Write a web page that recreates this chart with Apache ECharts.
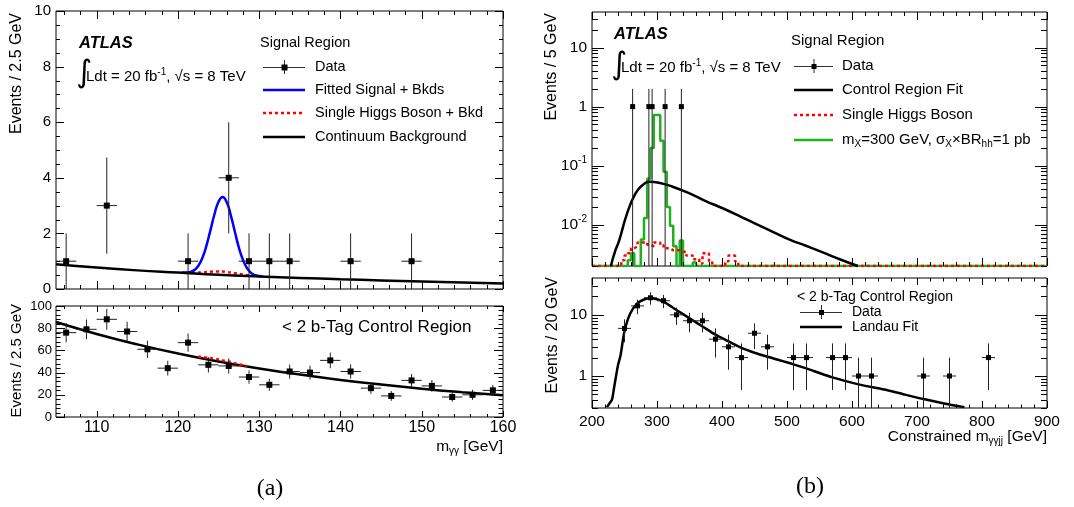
<!DOCTYPE html>
<html><head><meta charset="utf-8"><title>ATLAS</title>
<script src="https://cdn.jsdelivr.net/npm/echarts@6.0.0/dist/echarts.min.js"></script>
<style>html,body{margin:0;padding:0;background:#fff;}#chart{width:1074px;height:507px;}</style>
</head><body><div id="chart"></div>
<script>
// ===== (a) m_gg, signal region =====
const aSigX   = [106.25, 111.25, 121.25, 126.25, 128.75, 131.25, 133.75, 141.25, 148.75];
const aSigY   = [1, 3, 1, 4, 1, 1, 1, 1, 1];
const aSigErr = [1, 1.73, 1, 2, 1, 1, 1, 1, 1];
const aBkgX = [105, 110, 115, 120, 125, 130, 135, 140, 145, 150, 155, 160];
const aBkgY = [0.89, 0.77, 0.67, 0.59, 0.51, 0.45, 0.40, 0.35, 0.31, 0.27, 0.235, 0.20];
const aFitX = [120.5,121,121.5,122,122.5,123,123.5,124,124.5,125,125.5,126,126.5,127,127.5,128,128.5,129,129.5,130,130.5];
const aFitY = [0.59,0.59,0.61,0.68,0.83,1.11,1.55,2.11,2.69,3.14,3.31,3.13,2.66,2.07,1.49,1.05,0.75,0.58,0.50,0.47,0.45];
const aHiggsX = [121, 122, 123, 124, 125, 125.5, 126, 127, 128, 129];
const aHiggsY = [0.58, 0.59, 0.60, 0.62, 0.63, 0.63, 0.61, 0.57, 0.52, 0.47];
// ===== (a) < 2 b-tag control region =====
const aCrX = [106.25,108.75,111.25,113.75,116.25,118.75,121.25,123.75,126.25,128.75,131.25,133.75,136.25,138.75,141.25,143.75,146.25,148.75,151.25,153.75,156.25,158.75];
const aCrY = [76,79,88,77,61,44,67,47,46,36,29,41,40,51,41,26,19,33,28,18,20,24];
const aCrErr = [8.7,8.9,9.4,8.8,7.8,6.6,8.2,6.9,6.8,6.0,5.4,6.4,6.3,7.1,6.4,5.1,4.4,5.7,5.3,4.2,4.5,4.9];
const aCrFitX = [105,110,115,120,125,130,135,140,145,150,155,160];
const aCrFitY = [85.6,74.8,65.4,57.2,50.0,43.7,38.2,33.4,29.2,25.5,22.3,19.5];
const aCrHiggsX = [122.5,123.5,124.5,125.5,126.5,127.5,128.5];
const aCrHiggsY = [54.5,53.5,52.5,51,49.5,47.5,46];
// ===== (b) m_ggjj, signal region =====
const bSigX = [262.5, 287.5, 292.5, 312.5, 337.5];
const bSigY = [1, 1, 1, 1, 1];
const bSigErr = [1, 1, 1, 1, 1];
const bFitX = [229,235,242,254,267,278,288,303,324,350,375,401,427,452,478,504,529,555,581,609];
const bFitY = [0.002,0.0034,0.0055,0.0156,0.034,0.047,0.0536,0.0515,0.044,0.034,0.0252,0.019,0.014,0.0103,0.0076,0.0056,0.0044,0.0034,0.0026,0.002];
const bXHistLo = [255,260,265,270,275,280,285,290,295,300,305,310,315,320,325,330,335,340,345,350,355,360];
const bXHistY  = [0.0025,0.0033,0,0,0.0056,0.013,0.06,0.2,0.72,0.72,0.265,0.079,0.02,0.0096,0.0043,0,0.0054,0,0,0,0.0023,0];
const bHHistLo = [245,250,255,260,265,270,275,280,285,290,295,300,305,310,315,320,325,330,335,340,345,350,355,360,365,370,375,380,385,390,395,400,405,410,415,420,425];
const bHHistY  = [0.0025,0.003,0.0033,0.004,0.0043,0.005,0.005,0.005,0.0046,0.0043,0.005,0.005,0.0045,0.004,0.004,0.0037,0.0037,0.0037,0.0035,0.0035,0.003,0.003,0.0026,0.0026,0.0022,0.0033,0.0033,0.0024,0,0,0,0,0.0024,0.003,0.003,0.0024,0];
// ===== (b) < 2 b-tag control region =====
const bCrX = [250,270,290,310,330,350,370,390,410,430,450,470,510,530,570,590,610,630,710,750,810];
const bCrY = [6,14,19,17,10,8,8,4,3,2,5,3,2,2,2,2,1,1,1,1,2];
const bCrErr = [2.45,3.74,4.36,4.12,3.16,2.83,2.83,2,1.73,1.41,2.24,1.73,1.41,1.41,1.41,1.41,1,1,1,1,1.41];
const bCrFitX = [223,228,231,234,237,240,244,250,259,270,280,290,300,310,330,350,370,390,410,430,450,470,510,540,570,610,650,680,710,740,773];
const bCrFitY = [0.31,0.37,0.42,0.65,1.0,1.5,2.2,5.4,10.6,15.5,17.8,18.6,18.0,16.4,12.0,8.8,6.46,4.74,3.69,2.88,2.4,2.06,1.55,1.22,0.95,0.73,0.6,0.5,0.42,0.36,0.31];
// ===== axis ticks =====
const aXMajor = [110,120,130,140,150,160];
const bXMajor = [200,300,400,500,600,700,800,900];
const aTopYMajor = [0,2,4,6,8,10];
const aBotYMajor = [0,20,40,60,80,100];
const bTopYMajor = [0.01,0.1,1,10];
const bTopYMinor = [0.002,0.003,0.004,0.005,0.006,0.007,0.008,0.009,0.02,0.03,0.04,0.05,0.06,0.07,0.08,0.09,0.2,0.3,0.4,0.5,0.6,0.7,0.8,0.9,2,3,4,5,6,7,8,9,20,30];
const bBotYMajor = [1,10];
const bBotYMinor = [0.3,0.4,0.5,0.6,0.7,0.8,0.9,2,3,4,5,6,7,8,9,20,30];

const FONT = "'Liberation Sans', Arial, Helvetica, sans-serif";
const A_MIN = 0.002, B_MIN = 0.3;

function steps(a, b, s, skip) { const r = []; for (let v = a; v <= b + 1e-9; v += s) { const x = +v.toFixed(6); if (!skip || skip.every(m => Math.abs(m - x) > 1e-9)) r.push(x); } return r; }
function zip(xs, ys) { return xs.map((x, i) => [x, ys[i]]); }
function hist(lo, vals, w, xMin, xMax, yMin) {
  const p = [[xMin, yMin], [lo[0], yMin]];
  lo.forEach((l, i) => { const v = vals[i] > 0 ? vals[i] : yMin; p.push([l, v], [l + w, v]); });
  p.push([lo[lo.length - 1] + w, yMin], [xMax, yMin]);
  return p;
}
function lineS(gi, pts, color, width, dash, smooth, z) {
  return {type: 'line', xAxisIndex: gi, yAxisIndex: gi, data: pts, symbol: 'none', showSymbol: false,
    smooth: smooth, silent: true, clip: true, z: z, lineStyle: {color: color, width: width, type: dash || 'solid'}};
}
function errS(gi, xs, ys, errs, hw, yMin, size) {
  const data = xs.map((x, i) => [x, ys[i], Math.max(ys[i] - errs[i], yMin), ys[i] + errs[i], x - hw, x + hw]);
  return {type: 'custom', xAxisIndex: gi, yAxisIndex: gi, z: 20, clip: true, silent: true,
    encode: {x: 0, y: 1}, data: data,
    renderItem: function (p, api) {
      const c = api.coord([api.value(0), api.value(1)]);
      const lo = api.coord([api.value(0), api.value(2)]);
      const hi = api.coord([api.value(0), api.value(3)]);
      const l = api.coord([api.value(4), api.value(1)]);
      const r = api.coord([api.value(5), api.value(1)]);
      const st = {stroke: '#222', lineWidth: 1};
      return {type: 'group', children: [
        {type: 'line', shape: {x1: c[0], y1: lo[1], x2: c[0], y2: hi[1]}, style: st},
        {type: 'line', shape: {x1: l[0], y1: c[1], x2: r[0], y2: c[1]}, style: st},
        {type: 'rect', shape: {x: c[0] - size / 2, y: c[1] - size / 2, width: size, height: size}, style: {fill: '#000'}}
      ]};
    }};
}
function tickS(gi, xMaj, xMin, yMaj, yMin, lx, ly, refX, refY) {
  const d = [];
  xMaj.forEach(v => d.push([v, refY, 0, lx[0]]));
  xMin.forEach(v => d.push([v, refY, 0, lx[1]]));
  yMaj.forEach(v => d.push([refX, v, 1, ly[0]]));
  yMin.forEach(v => d.push([refX, v, 1, ly[1]]));
  return {type: 'custom', xAxisIndex: gi, yAxisIndex: gi, z: 30, clip: false, silent: true,
    encode: {x: 0, y: 1}, data: d,
    renderItem: function (params, api) {
      const cs = params.coordSys;
      const kind = api.value(2), len = api.value(3);
      const p = api.coord([api.value(0), api.value(1)]);
      const st = {stroke: '#000', lineWidth: 1};
      if (kind === 0) {
        const x = Math.round(p[0]) + 0.5;
        return {type: 'group', children: [
          {type: 'line', shape: {x1: x, y1: cs.y + cs.height, x2: x, y2: cs.y + cs.height - len}, style: st},
          {type: 'line', shape: {x1: x, y1: cs.y, x2: x, y2: cs.y + len}, style: st}]};
      }
      const y = Math.round(p[1]) + 0.5;
      return {type: 'group', children: [
        {type: 'line', shape: {x1: cs.x, y1: y, x2: cs.x + len, y2: y}, style: st},
        {type: 'line', shape: {x1: cs.x + cs.width, y1: y, x2: cs.x + cs.width - len, y2: y}, style: st}]};
    }};
}
const logFmt = function (v) {
  const l = Math.log10(v), r = Math.round(l);
  if (Math.abs(l - r) > 1e-6) return '';
  if (r >= 0) return String(Math.round(v));
  return '10{sup|' + r + '}';
};
const lblBase = {color: '#000', fontFamily: FONT, fontSize: 15};
const supRich = {sup: {fontSize: 10, fontFamily: FONT, color: '#000', padding: [0, 0, 10, 0]}};

const grids = [
  {left: 56, top: 11, width: 447, height: 278},
  {left: 56, top: 306, width: 447, height: 111},
  {left: 592, top: 12, width: 455, height: 254},
  {left: 592, top: 278, width: 455, height: 130}
].map(g => Object.assign({show: true, borderColor: '#000', borderWidth: 1, backgroundColor: 'transparent', containLabel: false}, g));

const axBase = {axisLine: {show: false}, axisTick: {show: false}, splitLine: {show: false}, minorTick: {show: false}};
const xAxes = [
  {gridIndex: 0, type: 'value', min: 105, max: 160, interval: 5, axisLabel: {show: false}},
  {gridIndex: 1, type: 'value', min: 105, max: 160, interval: 5,
    axisLabel: Object.assign({}, lblBase, {fontSize: 16, margin: 3, formatter: v => (v % 10 === 0 ? String(v) : '')})},
  {gridIndex: 2, type: 'value', min: 200, max: 900, interval: 100, axisLabel: {show: false}},
  {gridIndex: 3, type: 'value', min: 200, max: 900, interval: 100,
    axisLabel: Object.assign({}, lblBase, {fontSize: 15.5, margin: 6})}
].map(a => Object.assign({}, axBase, a));
const yAxes = [
  {gridIndex: 0, type: 'value', min: 0, max: 10, interval: 2, axisLabel: Object.assign({}, lblBase, {fontSize: 15, margin: 5})},
  {gridIndex: 1, type: 'value', min: 0, max: 100, interval: 20, axisLabel: Object.assign({}, lblBase, {fontSize: 13, margin: 4})},
  {gridIndex: 2, type: 'log', logBase: 10, min: A_MIN, max: 40, axisLabel: Object.assign({}, lblBase, {fontSize: 15.5, margin: 5, formatter: logFmt, rich: supRich})},
  {gridIndex: 3, type: 'log', logBase: 10, min: B_MIN, max: 40, axisLabel: Object.assign({}, lblBase, {fontSize: 15.5, margin: 5, formatter: logFmt, rich: supRich})}
].map(a => Object.assign({}, axBase, a));

const series = [
  // (a) top
  lineS(0, zip(aHiggsX, aHiggsY), '#ff0000', 2.5, [3, 3], true, 3),
  lineS(0, zip(aFitX, aFitY), '#0000ff', 2.5, 'solid', true, 4),
  lineS(0, zip(aBkgX, aBkgY), '#000000', 2.5, 'solid', true, 5),
  errS(0, aSigX, aSigY, aSigErr, 1.25, 0, 6),
  tickS(0, aXMajor, steps(106, 158, 2, aXMajor), aTopYMajor, steps(0.5, 9.5, 0.5, aTopYMajor), [8, 4], [8, 4], 105, 5),
  // (a) bottom
  lineS(1, zip(aCrHiggsX, aCrHiggsY), '#ff0000', 2.5, [3, 3], true, 4),
  lineS(1, zip(aCrFitX, aCrFitY), '#000000', 2.5, 'solid', true, 3),
  errS(1, aCrX, aCrY, aCrErr, 1.25, 0, 6),
  tickS(1, aXMajor, steps(106, 158, 2, aXMajor), aBotYMajor, steps(4, 96, 4, aBotYMajor), [6, 3], [9, 4.5], 105, 50),
  // (b) top
  lineS(2, hist(bXHistLo, bXHistY, 5, 200, 900, A_MIN), '#1fb21f', 2.5, 'solid', false, 3),
  lineS(2, hist(bHHistLo, bHHistY, 5, 200, 900, A_MIN), '#ff0000', 2.5, [3, 3], false, 4),
  lineS(2, zip(bFitX, bFitY), '#000000', 2.5, 'solid', true, 5),
  errS(2, bSigX, bSigY, bSigErr, 2.5, A_MIN, 5),
  tickS(2, bXMajor, steps(220, 880, 20, bXMajor), bTopYMajor, bTopYMinor, [8, 4], [12, 6], 200, 1),
  // (b) bottom
  lineS(3, zip(bCrFitX, bCrFitY), '#000000', 2.5, 'solid', 0.3, 3),
  errS(3, bCrX, bCrY, bCrErr, 10, B_MIN, 5),
  tickS(3, bXMajor, steps(220, 880, 20, bXMajor), bBotYMajor, bBotYMinor, [7, 3.5], [12, 6], 200, 1)
];

// ===== text & legends =====
const G = [];
function txt(x, y, text, o, extra) {
  G.push(Object.assign({type: 'text', x: x, y: y, silent: true, z: 100,
    style: Object.assign({text: text, fill: '#000', fontFamily: FONT, fontSize: 15, align: 'left', verticalAlign: 'middle'}, o || {})}, extra || {}));
}
function seg(x1, y1, x2, y2, stroke, w, dash) {
  G.push({type: 'line', silent: true, z: 100, shape: {x1: x1, y1: y1, x2: x2, y2: y2}, style: {stroke: stroke, lineWidth: w, lineDash: dash || null}});
}
function mark(x, y, s) { G.push({type: 'rect', silent: true, z: 100, shape: {x: x - s / 2, y: y - s / 2, width: s, height: s}, style: {fill: '#000'}}); }
function dataIcon(x1, x2, y, s) { seg(x1, y + 0.5, x2, y + 0.5, '#333', 1); seg((x1 + x2) / 2 + 0.5, y - 7, (x1 + x2) / 2 + 0.5, y + 7, '#333', 1); mark((x1 + x2) / 2 + 0.5, y + 0.5, s); }
const supR = {sup: {fontSize: 10, fontFamily: FONT, fill: '#000', padding: [0, 0, 10, 0]}};
const subR = {sub: {fontSize: 10, fontFamily: FONT, fill: '#000', padding: [9, 0, 0, 0]}};
const rot = {rotation: Math.PI / 2};

// (a) top
txt(79, 43, 'ATLAS', {fontSize: 16.5, fontWeight: 'bold', fontStyle: 'italic'});
txt(76, 74, '∫', {fontSize: 31, fontFamily: "'DejaVu Sans', sans-serif"});
txt(86, 77, 'Ldt = 20 fb{sup|-1}, √s = 8 TeV', {fontSize: 15, rich: supR});
txt(260, 43, 'Signal Region', {fontSize: 14.5});
dataIcon(263, 305, 67, 6);      txt(315, 67, 'Data', {fontSize: 14.5});
seg(263, 90, 305, 90, '#0000ff', 2.5);  txt(315, 90, 'Fitted Signal + Bkds', {fontSize: 14.5});
seg(263, 113, 305, 113, '#ff0000', 2.5, [3, 3]); txt(315, 113, 'Single Higgs Boson + Bkd', {fontSize: 14.5});
seg(263, 137, 305, 137, '#000000', 2.5); txt(315, 137, 'Continuum Background', {fontSize: 14.5});
txt(17, 13, 'Events / 2.5 GeV', {fontSize: 16, align: 'right'}, rot);
// (a) bottom
txt(282, 327, '< 2 b-Tag Control Region', {fontSize: 17});
txt(17, 304, 'Events / 2.5 GeV', {fontSize: 15, align: 'right'}, rot);
txt(503, 447, 'm{sub|γγ} [GeV]', {fontSize: 15.5, align: 'right', rich: subR});
txt(270, 489, '(a)', {fontSize: 24, fontFamily: "'Liberation Serif', 'DejaVu Serif', serif", align: 'center'});
// (b) top
txt(614, 34, 'ATLAS', {fontSize: 16.5, fontWeight: 'bold', fontStyle: 'italic'});
txt(611, 66, '∫', {fontSize: 31, fontFamily: "'DejaVu Sans', sans-serif"});
txt(621, 68, 'Ldt = 20 fb{sup|-1}, √s = 8 TeV', {fontSize: 15, rich: supR});
txt(791, 41, 'Signal Region', {fontSize: 15});
dataIcon(794, 833, 66, 5);      txt(842, 66, 'Data', {fontSize: 15});
seg(794, 90, 833, 90, '#000000', 2.5); txt(842, 90, 'Control Region Fit', {fontSize: 15});
seg(794, 115, 833, 115, '#ff0000', 2.5, [3, 3]); txt(842, 115, 'Single Higgs Boson', {fontSize: 15});
seg(794, 140, 833, 140, '#1fb21f', 2.5); txt(842, 140, 'm{sub|X}=300 GeV, σ{sub|X}×BR{sub|hh}=1 pb', {fontSize: 15, rich: subR});
txt(552, 13, 'Events / 5 GeV', {fontSize: 16, align: 'right'}, rot);
// (b) bottom
txt(797, 297, '< 2 b-Tag Control Region', {fontSize: 14});
dataIcon(800, 842, 312, 5);     txt(852, 312, 'Data', {fontSize: 14});
seg(800, 327, 842, 327, '#000000', 2.5); txt(852, 327, 'Landau Fit', {fontSize: 14});
txt(553, 277, 'Events / 20 GeV', {fontSize: 16, align: 'right'}, rot);
txt(1047, 437, 'Constrained m{sub|γγjj} [GeV]', {fontSize: 15.5, align: 'right', rich: subR});
txt(810, 487, '(b)', {fontSize: 24, fontFamily: "'Liberation Serif', 'DejaVu Serif', serif", align: 'center'});

const chart = echarts.init(document.getElementById('chart'), null, {renderer: 'canvas'});
chart.setOption({
  animation: false,
  backgroundColor: '#fff',
  grid: grids,
  xAxis: xAxes,
  yAxis: yAxes,
  series: series,
  graphic: {elements: G}
});
</script>
</body></html>
